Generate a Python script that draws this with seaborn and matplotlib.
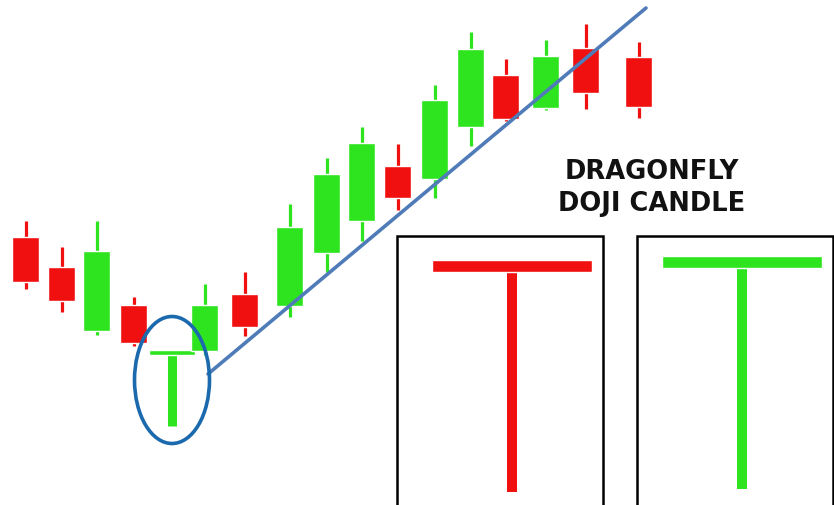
#dragonfly doji candle illustration - recreated with seaborn + matplotlib patches
import seaborn as sns
import matplotlib.pyplot as plt
from matplotlib.patches import Ellipse, Rectangle

#candle data (x = time position, prices)
candle_x = [26, 62, 97, 134, 170, 205, 245, 290, 327, 362, 398, 435, 471, 506, 546, 586, 639]
candle_open = [268, 238, 174, 200, 151, 154, 211, 199, 252, 284, 339, 326, 378, 430, 397, 457, 448]
candle_close = [223, 204, 254, 162, 154, 200, 178, 278, 331, 362, 307, 405, 456, 386, 449, 412, 398]
candle_high = [284, 258, 284, 208, 154, 221, 233, 301, 347, 378, 361, 420, 473, 446, 465, 481, 463]
candle_low = [216, 193, 170, 159, 79, 150, 169, 188, 233, 264, 295, 307, 359, 384, 395, 396, 387]
doji_index = 4

#trend line support points
trend_x = [208, 646]
trend_y = [131, 497]

#the two example dragonfly doji candles in the boxes
doji_x = [512, 742]
doji_price = [239, 243]
doji_low = [13, 16]
doji_colors = ["red", "green"]

title_text = "DRAGONFLY\nDOJI CANDLE"

RED = "#f01010"
GREEN = "#2ee41e"
BLUE_LINE = "#4f7cb8"
BLUE_CIRCLE = "#1a6aad"

def draw_t(ax, x, price, low, color, bar_w, bar_h, stem_lw):
    #dragonfly doji drawn as a "T"
    ax.vlines(x, low, price, color=color, linewidth=stem_lw, zorder=3)
    ax.bar(x, bar_h, bottom=price - bar_h / 2, width=bar_w, color=color, zorder=3)

def draw_chart():
    sns.set_theme(style="white")
    plt.rcParams['font.family'] = ['DejaVu Sans']

    fig = plt.figure(figsize=(8.34, 5.06), dpi=100)
    ax = fig.add_axes([0, 0, 1, 1])
    ax.set_xlim(0, 834)
    ax.set_ylim(0, 506)
    ax.axis("off")

    #candles: wicks then bodies
    for i, (x, o, c, h, l) in enumerate(zip(candle_x, candle_open, candle_close, candle_high, candle_low)):
        color = GREEN if c >= o else RED
        if i == doji_index:
            draw_t(ax, x + 2, (o + c) / 2, l, color, 46, 5, 6.5)
            continue
        ax.vlines(x, l, h, color=color, linewidth=2.3, zorder=2)
        ax.bar(x, abs(c - o), bottom=min(o, c), width=27, color=color, zorder=3)

    #trend line
    sns.lineplot(x=trend_x, y=trend_y, color=BLUE_LINE, linewidth=2.6, ax=ax, zorder=4)

    #circle around the doji
    ax.add_patch(Ellipse((172, 125), 75, 127, fill=False, edgecolor=BLUE_CIRCLE, linewidth=2.6, zorder=5))

    #title
    ax.text(652, 318, title_text, ha="center", va="center", fontsize=18.5, fontweight="bold",
            color="#111111", linespacing=1.3)

    #boxes with big doji examples
    for left, right in [(397, 603), (637, 833)]:
        ax.add_patch(Rectangle((left, -10), right - left, 279, fill=False, edgecolor="black", linewidth=1.8, zorder=2))
    for x, p, l, cname in zip(doji_x, doji_price, doji_low, doji_colors):
        color = RED if cname == "red" else GREEN
        draw_t(ax, x, p, l, color, 160, 12, 7.2)

    fig.savefig("out.png", dpi=100)

draw_chart()
